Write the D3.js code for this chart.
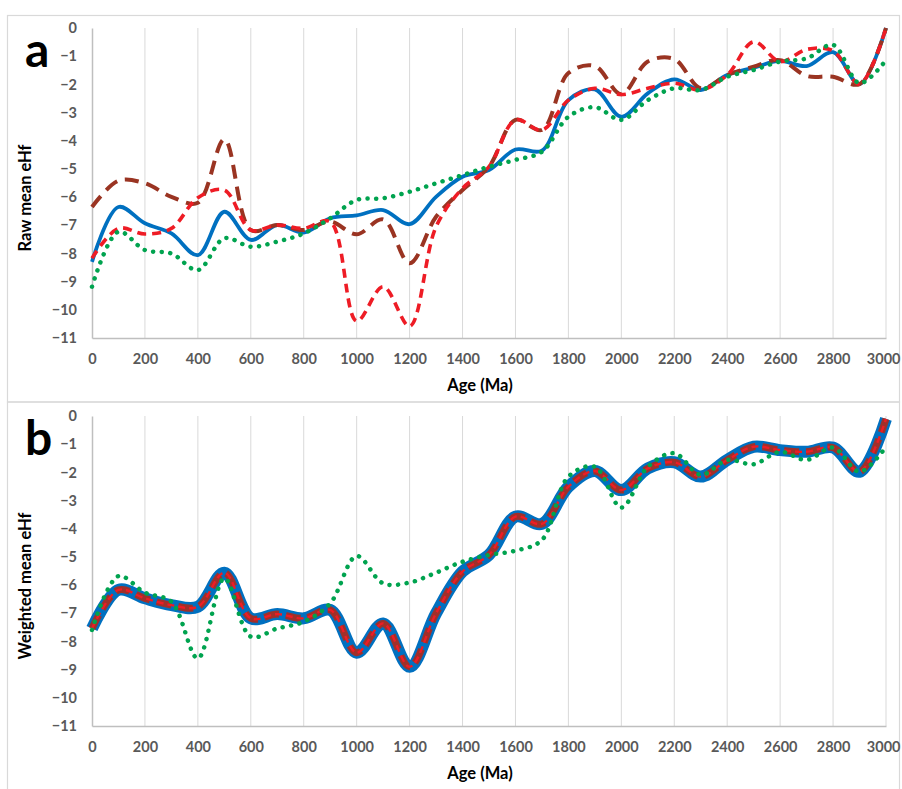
<!DOCTYPE html>
<html><head><meta charset="utf-8">
<script src="https://cdn.jsdelivr.net/npm/d3@7"></script>
<style>body{margin:0;background:#fff}svg{display:block}</style>
</head><body>
<svg id="chart" width="902" height="789"></svg>
<script>
const ages = d3.range(0, 3001, 100);
const xTicks = d3.range(0, 3001, 200);
const yTicks = d3.range(0, -12, -1);

// Panel a: raw mean eHf
const rawBlue  = [-8.3,-6.35,-6.93,-7.29,-8.06,-6.52,-7.52,-6.99,-7.26,-6.75,-6.65,-6.46,-6.96,-5.99,-5.28,-5.04,-4.31,-4.35,-2.56,-2.18,-3.15,-2.32,-1.82,-2.2,-1.67,-1.41,-1.17,-1.35,-0.86,-1.99,0];
const rawBrown = [-6.35,-5.42,-5.51,-5.99,-6.2,-3.95,-7.17,-6.99,-7.17,-6.87,-7.32,-6.79,-8.35,-6.7,-5.75,-4.92,-3.26,-3.62,-1.6,-1.35,-2.35,-1.19,-1.1,-2.14,-1.67,-1.37,-1.14,-1.7,-1.73,-1.99,0];
const rawRed   = [-8.17,-7.11,-7.31,-7.11,-6.02,-5.75,-7.17,-6.99,-7.11,-6.87,-10.4,-9.18,-10.58,-7.05,-5.69,-4.92,-3.26,-3.62,-2.56,-2.14,-2.36,-2.14,-1.96,-2.2,-1.67,-0.49,-1.19,-0.76,-0.81,-1.99,0];
const rawGreen = [-9.18,-7.23,-7.88,-8.0,-8.59,-7.46,-7.76,-7.58,-7.29,-6.75,-6.1,-6.04,-5.81,-5.51,-5.22,-4.92,-4.68,-4.39,-3.15,-2.81,-3.26,-2.56,-2.14,-2.2,-1.73,-1.49,-1.19,-1.08,-0.6,-1.96,-1.14];

// Panel b: weighted mean eHf (blue, brown and red coincide)
const wBlue  = [-7.54,-6.17,-6.47,-6.71,-6.77,-5.56,-7.18,-7.03,-7.18,-6.88,-8.4,-7.36,-8.9,-7.0,-5.52,-4.93,-3.57,-3.83,-2.51,-1.95,-2.63,-1.86,-1.64,-2.15,-1.56,-1.09,-1.21,-1.27,-1.12,-1.98,-0.1];
const wBrown = wBlue;
const wRed   = wBlue;
const wGreen = [-7.59,-5.68,-6.27,-6.59,-8.6,-5.76,-7.83,-7.54,-7.3,-6.65,-4.97,-5.94,-5.91,-5.56,-5.17,-4.93,-4.78,-4.4,-2.15,-1.8,-3.25,-1.8,-1.32,-2.09,-1.56,-1.71,-1.27,-1.56,-1.12,-1.98,-1.09];

const svg = d3.select("#chart");
const FONT = "Lato, 'Open Sans', sans-serif";

// frames
svg.append("rect").attr("x",7.5).attr("y",15.5).attr("width",892).attr("height",386.5)
  .attr("fill","none").attr("stroke","#d9d9d9").attr("stroke-width",1.2);
svg.append("rect").attr("x",7.5).attr("y",402).attr("width",892).attr("height",400)
  .attr("fill","none").attr("stroke","#d9d9d9").attr("stroke-width",1.2);

const x = d3.scaleLinear().domain([0,3000]).range([92,886]);

function panel(top, letter, ylabel, series) {
  const y = d3.scaleLinear().domain([-11,0]).range([top+310, top]);
  const g = svg.append("g");
  // grid
  g.selectAll(".grid").data(xTicks.filter(d=>d>0)).join("line")
    .attr("x1",d=>x(d)).attr("x2",d=>x(d)).attr("y1",y(0)).attr("y2",y(-11))
    .attr("stroke","#d9d9d9").attr("stroke-width",1);
  // axes
  const xa = g.append("g").attr("transform",`translate(0,${y(-11)})`)
    .call(d3.axisBottom(x).tickValues(xTicks).tickSize(0).tickPadding(16).tickFormat(d3.format("d")));
  const ya = g.append("g").attr("transform",`translate(${x(0)},0)`)
    .call(d3.axisLeft(y).tickValues(yTicks).tickSize(0).tickPadding(15).tickFormat(d3.format("d")));
  [xa, ya].forEach(a => {
    a.select(".domain").attr("stroke","#bfbfbf").attr("stroke-width",1.5);
    a.selectAll("text").attr("fill","#595959").style("font-family",FONT)
      .style("font-size","14.5px").style("font-weight","bold");
  });
  // keep the last x label inside the frame
  xa.selectAll(".tick").filter(d => d === 3000).select("text")
    .attr("text-anchor","end").attr("x", 14);
  // lines
  const line = vals => d3.line().x((d,i)=>x(ages[i])).y(d=>y(d)).curve(d3.curveCatmullRom.alpha(0.5))(vals);
  series.forEach(s => {
    g.append("path").attr("d", line(s.values)).attr("fill","none")
      .attr("stroke", s.color).attr("stroke-width", s.width)
      .attr("stroke-dasharray", s.dash || null)
      .attr("stroke-linecap", s.cap || "butt").attr("stroke-linejoin","round");
  });
  // labels
  g.append("text").attr("x",480).attr("y",y(-11)+53).attr("text-anchor","middle")
    .style("font-family",FONT).style("font-size","16.5px").style("font-weight","bold")
    .attr("fill","#000").text("Age (Ma)");
  g.append("text").attr("transform",`translate(31,${top+170}) rotate(-90)`).attr("text-anchor","middle")
    .style("font-family",FONT).style("font-size","16.5px").style("font-weight","bold")
    .attr("fill","#000").text(ylabel);
  g.append("text").attr("x",25).attr("y",top+39).style("font-family",FONT)
    .style("font-size","48px").style("font-weight","bold").attr("fill","#000").text(letter);
}

panel(28, "a", "Raw mean eHf", [
  {values: rawBlue,  color:"#0070C0", width:3.8},
  {values: rawBrown, color:"#9A3422", width:4, dash:"14,8"},
  {values: rawRed,   color:"#EE1C25", width:3.6, dash:"9,6"},
  {values: rawGreen, color:"#00A34F", width:4.5, dash:"0.1,8.5", cap:"round"}
]);
panel(416, "b", "Weighted mean eHf", [
  {values: wBlue,  color:"#0070C0", width:12},
  {values: wBrown, color:"#A0302A", width:7, dash:"15,7"},
  {values: wRed,   color:"#EE1C25", width:2.4, dash:"7,4"},
  {values: wGreen, color:"#00A34F", width:4.5, dash:"0.1,8.5", cap:"round"}
]);
</script>
</body></html>
